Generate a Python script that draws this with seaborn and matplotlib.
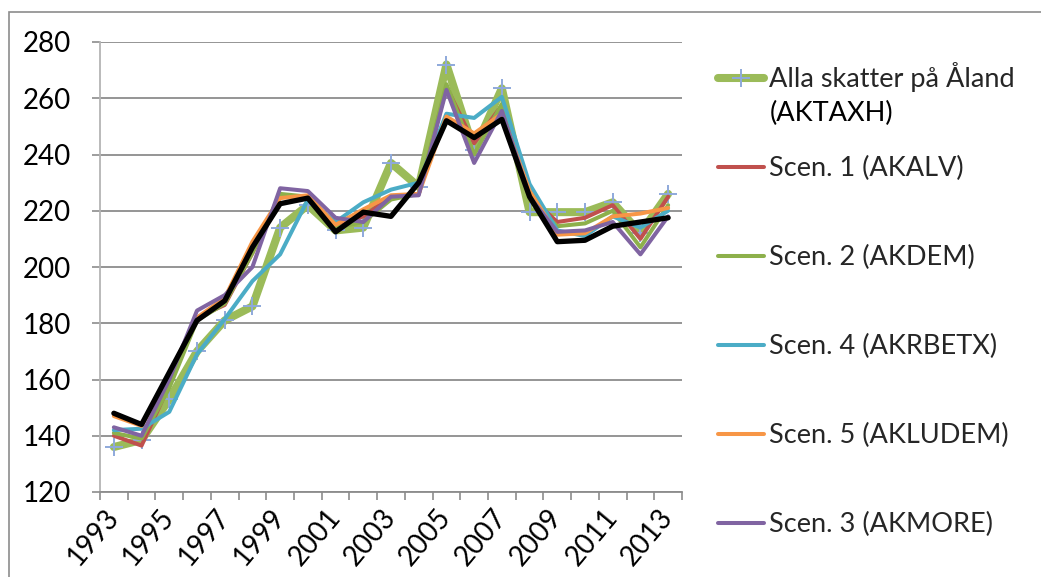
import numpy as np
import pandas as pd
import matplotlib
matplotlib.use("Agg")
import matplotlib.pyplot as plt
import seaborn as sns
from matplotlib.ticker import FixedLocator
from matplotlib.patches import Rectangle

years = list(range(1993, 2014))
aktaxh = [136, 138.5, 153, 170, 181, 186, 214, 222, 213, 214, 237, 228.5, 272, 241.5, 263.5, 219.5, 219.5, 219.5, 223, 212, 226]
akalv = [140, 136.5, 158, 182, 186.5, 205, 225, 225, 214, 218, 225, 226, 264, 244, 257.5, 225, 216, 217.5, 222, 210, 225]
akdem = [141, 139, 157, 181, 187, 205, 226, 225, 214, 216, 224, 226, 265, 240, 258, 224, 214.5, 215.5, 220, 207, 222]
akrbetx = [142, 142.5, 148.5, 169, 181.5, 195, 204.5, 224, 216, 223, 227.5, 230, 254.5, 253, 260.5, 229.5, 213, 211, 218, 214, 220]
akludem = [147, 143.5, 162, 182, 189, 209, 224.5, 225.5, 215, 220.5, 225.5, 226, 253.5, 247.5, 254.5, 227, 211.5, 212, 218, 219, 221]
akmore = [143, 140, 160, 184.5, 190, 200, 228, 227, 217.5, 216, 225, 225.5, 263, 237, 255.5, 225, 212.5, 213, 216, 204.5, 218]
unlabeled = [148, 144, 162.5, 181, 188, 207, 222.5, 224.5, 212.5, 219.5, 218, 230, 252, 246, 252.5, 225, 209, 209.5, 214.5, 216, 217.5]

labels = ["Alla skatter på Åland", "Scen. 1 (AKALV)", "Scen. 2 (AKDEM)",
          "Scen. 4 (AKRBETX)", "Scen. 5 (AKLUDEM)", "Scen. 3 (AKMORE)"]
yticks = [120, 140, 160, 180, 200, 220, 240, 260, 280]
xtick_years = list(range(1993, 2014, 2))

sns.set_theme(style="white")
plt.rcParams['font.family'] = ['Lato', 'DejaVu Sans']

W, H = 1041, 577
fig = plt.figure(figsize=(W / 100, H / 100), dpi=100)
ax = fig.add_axes([100 / W, 1 - 492 / H, 582 / W, 450 / H])

styles = [
    (aktaxh, labels[0], "#9BBB59", 5.8, dict(marker="+", markersize=13, markeredgewidth=1.4,
                                            markeredgecolor="#8EA9DB")),
    (akalv, labels[1], "#C0504D", 2.9, {}),
    (akdem, labels[2], "#8DB04B", 2.9, {}),
    (akrbetx, labels[3], "#4BACC6", 2.9, {}),
    (akludem, labels[4], "#F79646", 2.9, {}),
    (akmore, labels[5], "#8064A2", 2.9, {}),
    (unlabeled, "_nolegend_", "#000000", 3.8, {}),
]
for vals, lab, col, lw, extra in styles:
    df = pd.DataFrame({"year": years, "value": vals})
    sns.lineplot(data=df, x="year", y="value", ax=ax, color=col, linewidth=lw,
                 label=lab, errorbar=None, solid_joinstyle="round",
                 solid_capstyle="round", **extra)

ax.set_xlim(1992.5, 2013.5)
ax.set_ylim(120, 280)
ax.set_xlabel("")
ax.set_ylabel("")

ax.yaxis.set_major_locator(FixedLocator(yticks))
ax.xaxis.set_major_locator(FixedLocator(xtick_years))
ax.xaxis.set_minor_locator(FixedLocator(np.arange(1992.5, 2014.0, 1.0)))
ax.set_xticklabels([str(y) for y in xtick_years])

ax.yaxis.grid(True, color="#8C8C8C", linewidth=1.3)
ax.xaxis.grid(False)
ax.set_axisbelow(True)

for s in ["top", "right"]:
    ax.spines[s].set_visible(False)
ax.spines["left"].set_color("#B4B4B4")
ax.spines["left"].set_linewidth(1.3)
ax.spines["bottom"].set_color("#8C8C8C")
ax.spines["bottom"].set_linewidth(1.3)

ax.tick_params(axis="y", which="major", direction="out", length=6, width=1.2,
               color="#8C8C8C", left=True, labelsize=20, pad=15, labelcolor="black")
ax.tick_params(axis="x", which="major", length=0, labelsize=20, pad=15, labelcolor="black")
ax.tick_params(axis="x", which="minor", direction="out", length=6, width=1.2,
               color="#8C8C8C", bottom=True)
plt.setp(ax.get_xticklabels(), rotation=50, ha="right", va="center", rotation_mode="anchor")

handles, labs = ax.get_legend_handles_labels()
order = [labs.index(l) for l in labels]
leg = ax.legend([handles[i] for i in order], [labs[i] for i in order],
                loc="upper left", bbox_to_anchor=(718 / W, 1 - 62 / H),
                bbox_transform=fig.transFigure, frameon=False, fontsize=19.5,
                handlelength=1.7, handletextpad=0.2, labelspacing=2.36,
                borderpad=0, borderaxespad=0)

fig.add_artist(Rectangle((9 / W, -0.2), 2.0, 1.2 - 12 / H, transform=fig.transFigure,
                         fill=False, edgecolor="#8C8C8C", linewidth=1.2))

fig.canvas.draw()
renderer = fig.canvas.get_renderer()
bb = leg.get_texts()[0].get_window_extent(renderer)
fig.text(bb.x0 / W, (bb.y1 - 39) / H, "(AKTAXH)", fontsize=19.5, ha="left", va="top",
         color="black")

fig.savefig("out.png", dpi=100)
